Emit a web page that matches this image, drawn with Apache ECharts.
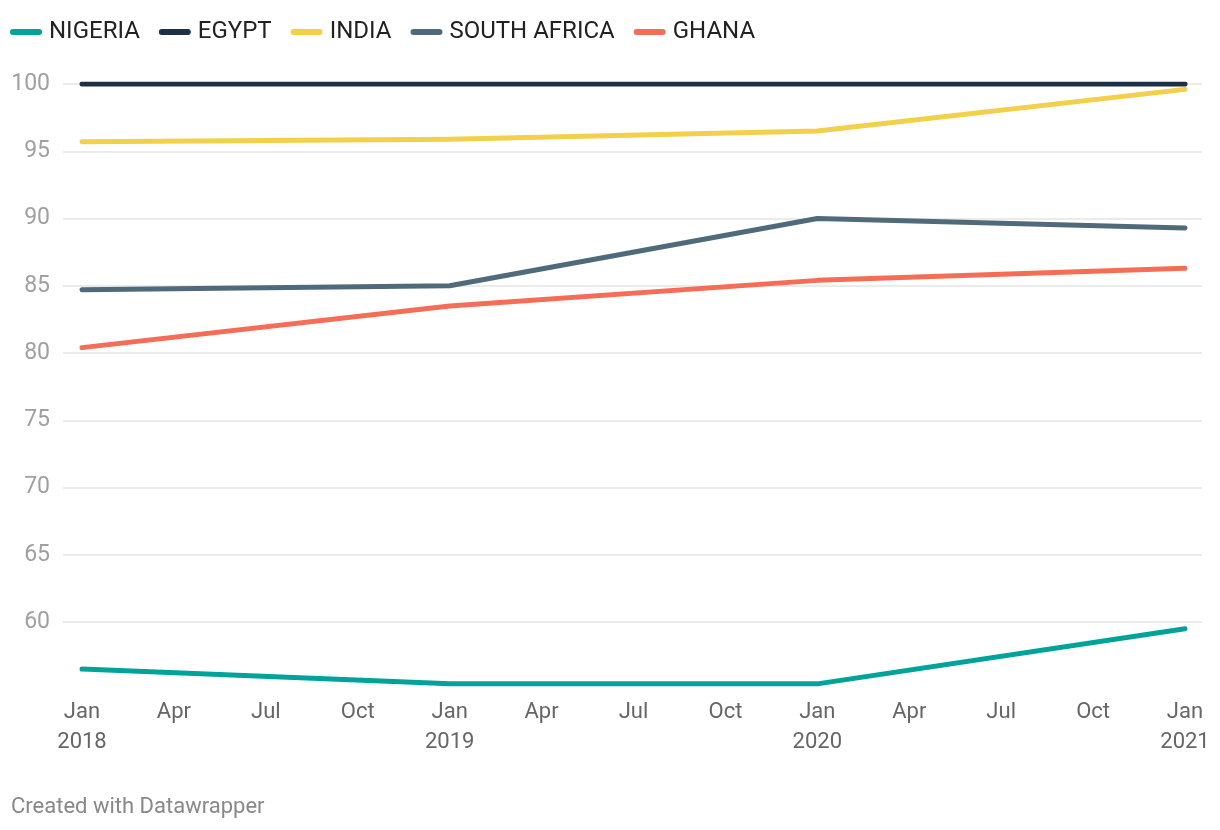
<!DOCTYPE html>
<html><head><meta charset="utf-8">
<script src="https://cdn.jsdelivr.net/npm/echarts@6/dist/echarts.min.js"></script>
<style>html,body{margin:0;padding:0;background:#fff}#c{width:1220px;height:830px}</style>
</head><body><div id="c"></div>
<script>
// months since Jan 2018
var months = [0, 12, 24, 36];
var nigeria = [56.5, 55.4, 55.4, 59.5];
var egypt = [100, 100, 100, 100];
var india = [95.7, 95.9, 96.5, 99.6];
var southAfrica = [84.7, 85.0, 90.0, 89.3];
var ghana = [80.4, 83.5, 85.4, 86.3];
var seriesNames = ['NIGERIA', 'EGYPT', 'INDIA', 'SOUTH AFRICA', 'GHANA'];
var xTickLabels = ['Jan\n2018','Apr','Jul','Oct','Jan\n2019','Apr','Jul','Oct','Jan\n2020','Apr','Jul','Oct','Jan\n2021'];
var yTicks = [60, 65, 70, 75, 80, 85, 90, 95, 100];

var colors = ['#00a39a', '#1c3048', '#f2d04a', '#4f6b7b', '#f66d57'];
var all = [nigeria, egypt, india, southAfrica, ghana];
var FONT = 'Roboto';
function pairs(v){ return months.map(function(m,i){ return [m, v[i]]; }); }

var series = all.map(function(v, i){
  return {
    name: seriesNames[i], type: 'line', xAxisIndex: 0, yAxisIndex: 0,
    data: pairs(v), symbol: 'none', smooth: false,
    lineStyle: { width: 5, color: colors[i], cap: 'round', join: 'round' },
    itemStyle: { color: colors[i] },
    z: i === 1 ? 5 : 3
  };
});
series.push({ type: 'line', xAxisIndex: 1, yAxisIndex: 1, data: [], silent: true });

var chart = echarts.init(document.getElementById('c'));
chart.setOption({
  animation: false,
  color: colors,
  legend: {
    data: seriesNames, left: 5, top: 15, itemGap: 19, itemWidth: 32, itemHeight: 6,
    icon: 'path://M3,0 H29 A3,3 0 0 1 29,6 H3 A3,3 0 0 1 3,0 Z',
    textStyle: { fontFamily: FONT, fontSize: 24, color: '#222', padding: [0,0,0,2] }
  },
  grid: [
    { left: 82, right: 35, top: 84, bottom: 140.75, containLabel: false },
    { left: 63, right: 18, top: 84, bottom: 208, containLabel: false }
  ],
  xAxis: [
    { type: 'value', gridIndex: 0, min: 0, max: 36, interval: 3,
      axisLine: { show: false }, axisTick: { show: false }, splitLine: { show: false },
      axisLabel: { fontFamily: FONT, fontSize: 22, color: '#666', lineHeight: 30, margin: 8,
        formatter: function(v){ return xTickLabels[Math.round(v/3)] || ''; } } },
    { type: 'value', gridIndex: 1, min: 0, max: 1, show: false }
  ],
  yAxis: [
    { type: 'value', gridIndex: 0, min: 55, max: 100, show: false },
    { type: 'value', gridIndex: 1, min: yTicks[0], max: yTicks[yTicks.length-1], interval: 5,
      axisLine: { show: false }, axisTick: { show: false },
      splitLine: { show: true, lineStyle: { color: '#e4e4e4', width: 1.5 } },
      axisLabel: { fontFamily: FONT, fontSize: 23, color: '#a0a0a0', margin: 13 } }
  ],
  graphic: [{ type: 'text', left: 11, top: 796,
    style: { text: 'Created with Datawrapper', fontFamily: FONT, fontSize: 22, fill: '#888' } }],
  series: series
});
</script></body></html>
